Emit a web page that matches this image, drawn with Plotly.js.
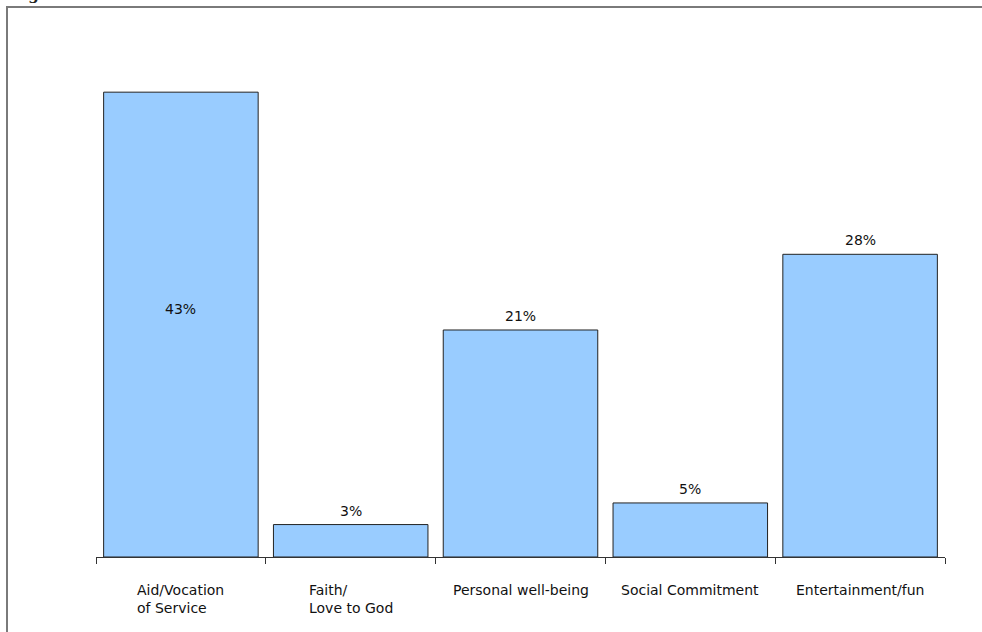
<!DOCTYPE html>
<html>
<head>
<meta charset="utf-8">
<script src="https://cdn.plot.ly/plotly-3.0.1.min.js"></script>
<style>
  html, body { margin: 0; padding: 0; background: #fff; }
  #wrap { position: relative; width: 982px; height: 632px; overflow: hidden; }
  #chart { position: absolute; left: 0; top: 0; width: 982px; height: 632px; }
  #frame { position: absolute; left: 6px; top: 6px; width: 1200px; height: 800px;
           border-left: 2px solid #7a7a7a; border-top: 2px solid #7a7a7a; pointer-events: none; }
  #cap { position: absolute; left: 12px; top: -14px; font-family: "DejaVu Serif", serif;
         font-weight: bold; font-size: 15px; color: #222; white-space: nowrap; }
</style>
</head>
<body>
<div id="wrap">
  <div id="cap">Figure</div>
  <div id="chart"></div>
  <div id="frame"></div>
</div>
<script>
const categories = ["Aid/Vocation", "Faith/", "Personal well-being", "Social Commitment", "Entertainment/fun"];
const tickLabels = ["Aid/Vocation<br>of Service", "Faith/<br>Love to God", "Personal well-being", "Social Commitment", "Entertainment/fun"];
const values = [43, 3, 21, 5, 28];
const valueLabels = ["43%", "3%", "21%", "5%", "28%"];
const labelInside = [true, false, false, false, false];

const FONT = "DejaVu Sans, sans-serif";
const FS = 14;

const trace = {
  type: "bar",
  x: categories,
  y: values,
  marker: { color: "#99CCFF", line: { color: "#222", width: 1 } },
  hoverinfo: "skip"
};

const tickAnnotations = categories.map((c, i) => ({
  x: c, xref: "x", y: 0, yref: "paper",
  yshift: -23, yanchor: "top", xanchor: "center",
  text: tickLabels[i], align: "left", showarrow: false,
  font: { family: FONT, size: FS, color: "#111" }
}));

const valueAnnotations = categories.map((c, i) => labelInside[i] ? ({
  x: c, xref: "x", y: values[i] / 2, yref: "y",
  yshift: 16, yanchor: "middle", xanchor: "center",
  text: valueLabels[i], showarrow: false,
  font: { family: FONT, size: FS, color: "#111" }
}) : ({
  x: c, xref: "x", y: values[i], yref: "y",
  yshift: 4, yanchor: "bottom", xanchor: "center",
  text: valueLabels[i], showarrow: false,
  font: { family: FONT, size: FS, color: "#111" }
}));

const layout = {
  width: 982, height: 632,
  margin: { l: 96, r: 37, t: 50, b: 75 },
  paper_bgcolor: "rgba(0,0,0,0)",
  plot_bgcolor: "rgba(0,0,0,0)",
  bargap: 0.09,
  showlegend: false,
  xaxis: {
    type: "category",
    showline: true, linecolor: "#333", linewidth: 1,
    ticks: "outside", tickson: "boundaries", ticklen: 6, tickcolor: "#333", tickwidth: 1,
    showticklabels: false, showgrid: false, zeroline: false, fixedrange: true
  },
  yaxis: {
    range: [0, 46.9], visible: false, showgrid: false, zeroline: false, fixedrange: true
  },
  annotations: tickAnnotations.concat(valueAnnotations),
  font: { family: FONT, size: FS, color: "#111" }
};

Plotly.newPlot("chart", [trace], layout, { displayModeBar: false, staticPlot: true });
</script>
</body>
</html>
